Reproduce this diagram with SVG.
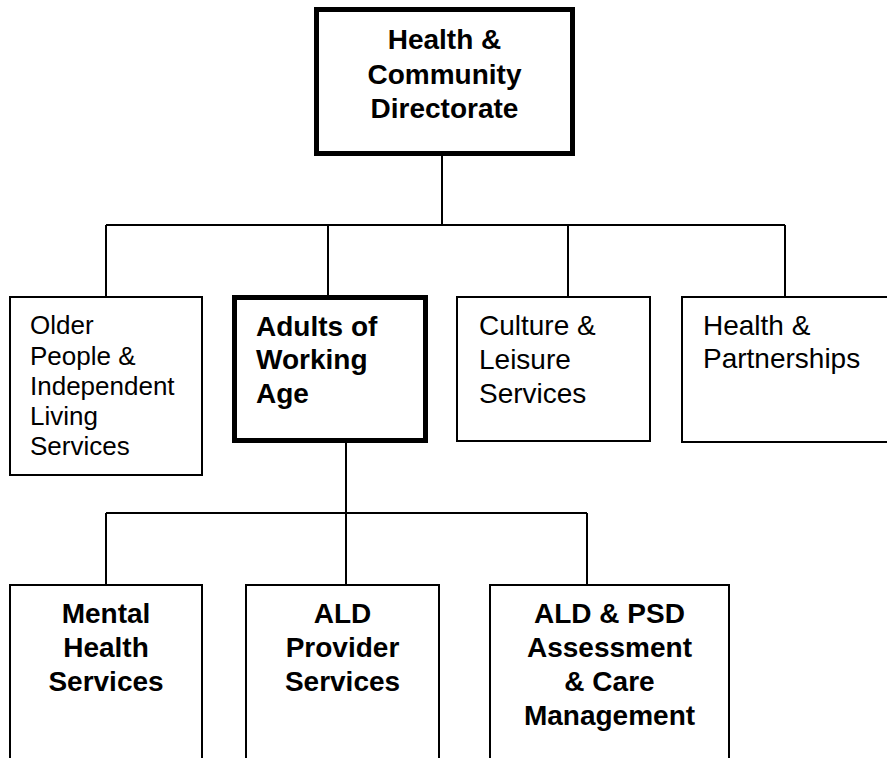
<svg xmlns="http://www.w3.org/2000/svg" width="887" height="758" viewBox="0 0 887 758">
<style>
.box{fill:#fff;stroke:#000;stroke-width:2}
.thick{fill:#fff;stroke:#000;stroke-width:5}
.ln{fill:none;stroke:#000;stroke-width:2}
text{font-family:"Liberation Sans",Arial,sans-serif;fill:#000}
.b{font-weight:bold;font-size:28px}
.r{font-size:28px}
.s{font-size:26px}
.c{text-anchor:middle}
</style>
<rect x="0" y="0" width="887" height="758" fill="#fff"/>
<g id="connectors">
<path class="ln" d="M442 156V225M106 225H785M106 225V297M328 225V297M568 225V297M785 225V297"/>
<path class="ln" d="M346 443V513M106 513H587M106 513V585M346 513V585M587 513V585"/>
</g>
<g id="directorate">
<rect class="thick" x="316.5" y="9.5" width="256" height="144"/>
<text class="b c" x="444.5" y="49">Health &amp;</text>
<text class="b c" x="444.5" y="84">Community</text>
<text class="b c" x="444.5" y="118">Directorate</text>
</g>
<g id="older">
<rect class="box" x="10" y="297" width="192" height="178"/>
<text class="s" x="30" y="334">Older</text>
<text class="s" x="30" y="365">People &amp;</text>
<text class="s" x="30" y="395">Independent</text>
<text class="s" x="30" y="425">Living</text>
<text class="s" x="30" y="455">Services</text>
</g>
<g id="adults">
<rect class="thick" x="234.5" y="297.5" width="191" height="143"/>
<text class="b" x="256" y="336">Adults of</text>
<text class="b" x="256" y="369">Working</text>
<text class="b" x="256" y="403">Age</text>
</g>
<g id="culture">
<rect class="box" x="457" y="297" width="193" height="144"/>
<text class="r" x="479" y="335">Culture &amp;</text>
<text class="r" x="479" y="369">Leisure</text>
<text class="r" x="479" y="403">Services</text>
</g>
<g id="partnerships">
<rect class="box" x="682" y="297" width="220" height="145"/>
<text class="r" x="703" y="335">Health &amp;</text>
<text class="r" x="703" y="368">Partnerships</text>
</g>
<g id="mental">
<rect class="box" x="10" y="585" width="192" height="200"/>
<text class="b c" x="106" y="623">Mental</text>
<text class="b c" x="106" y="657">Health</text>
<text class="b c" x="106" y="691">Services</text>
</g>
<g id="provider">
<rect class="box" x="246" y="585" width="193" height="200"/>
<text class="b c" x="342.5" y="623">ALD</text>
<text class="b c" x="342.5" y="657">Provider</text>
<text class="b c" x="342.5" y="691">Services</text>
</g>
<g id="assessment">
<rect class="box" x="490" y="585" width="239" height="200"/>
<text class="b c" x="609.5" y="623">ALD &amp; PSD</text>
<text class="b c" x="609.5" y="657">Assessment</text>
<text class="b c" x="609.5" y="691">&amp; Care</text>
<text class="b c" x="609.5" y="725">Management</text>
</g>
</svg>
